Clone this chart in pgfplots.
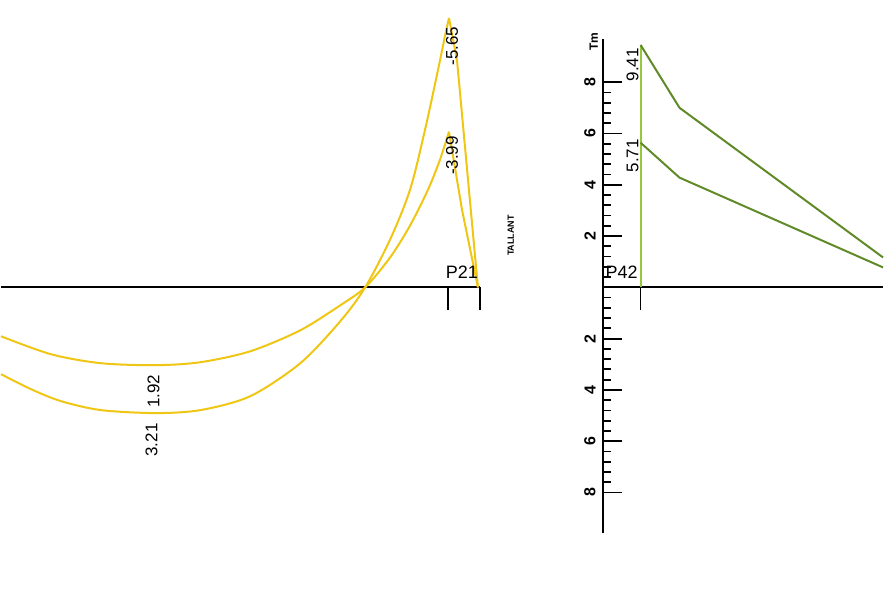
\documentclass[border=0pt]{standalone}
\usepackage{pgfplots}
\pgfplotsset{compat=1.18}
\usepackage{fontspec}
\setmainfont{Liberation Sans}
\definecolor{gold}{RGB}{240,198,20}
\definecolor{olive}{RGB}{96,138,40}
\definecolor{lgreen}{RGB}{150,200,60}
\begin{document}
\begin{tikzpicture}
% whole picture in pixel units of the reference (y downwards)
\begin{axis}[name=main, x=0.5pt, y=0.5pt, xmin=0, xmax=884, ymin=0, ymax=616,
    y dir=reverse, hide axis, clip=false, scale only axis]
  \path (0,0) rectangle (884,616);
  % left beam: bending moments
  \addplot[black, line width=1pt] coordinates {(0,288) (480,288)};
  \addplot[black, line width=0.8pt] coordinates {(448,288) (448,311)};
  \addplot[black, line width=0.8pt] coordinates {(480,288) (480,311)};
  \addplot[gold, line width=1pt, smooth] coordinates {
    (0,375) (30,390) (60,402) (100,411) (155,414) (200,411) (250,397)
    (300,364) (340,322) (365,288) (390,240) (410,190) (425,130)
    (438,70) (445,36) (449,18)};
  \addplot[gold, line width=1pt] coordinates {(449,18) (457,60) (478,288)};
  \addplot[gold, line width=1pt, smooth] coordinates {
    (0,337) (50,355) (100,364) (155,366) (200,363) (250,352) (300,331)
    (340,306) (365,288) (390,258) (410,226) (428,190) (440,160) (449,132)};
  \addplot[gold, line width=1pt] coordinates {(449,132) (462,210) (478,288)};
  \node[rotate=90, font=\fontsize{8.5}{10}\selectfont] at (452,46) {-5.65};
  \node[rotate=90, font=\fontsize{8.5}{10}\selectfont] at (452,156) {-3.99};
  \node[rotate=90, font=\fontsize{8.5}{10}\selectfont] at (151,441) {3.21};
  \node[rotate=90, font=\fontsize{8.5}{10}\selectfont] at (153,392) {1.92};
  \node[font=\fontsize{9}{10}\selectfont] at (462,273) {P21};
  \node[rotate=90, font=\fontsize{4.5}{5}\selectfont\bfseries] at (511,236) {TALLANT};
  % right beam: shear
  \addplot[black, line width=1pt] coordinates {(603,288) (884,288)};
  \addplot[black, line width=0.8pt] coordinates {(641,288) (641,311)};
  \addplot[lgreen, line width=1pt] coordinates {(641,288) (641,45)};
  \addplot[olive, line width=1pt] coordinates {(641,45) (680,108) (884,258)};
  \addplot[olive, line width=1pt] coordinates {(641,143) (680,178) (884,268)};
  \node[rotate=90, font=\fontsize{8.5}{10}\selectfont] at (633,65) {9.41};
  \node[rotate=90, font=\fontsize{8.5}{10}\selectfont] at (633,156) {5.71};
  \node[font=\fontsize{9}{10}\selectfont] at (622,273) {P42};
  \node[rotate=90, font=\fontsize{6}{7}\selectfont\bfseries] at (594,42) {Tm};
\end{axis}
% the scale of the shear diagram
\begin{axis}[at={(301.5pt,40.65pt)}, anchor=south west, scale only axis,
    width=1pt, height=248pt, xmin=0, xmax=1, ymin=-9.6, ymax=9.7,
    hide x axis, axis y line*=left, axis line style={line width=1pt},
    ytick={-8,-6,...,8}, yticklabels={8,6,4,2,,2,4,6,8},
    minor y tick num=4, tick align=inside,
    major tick length=9.5pt, minor tick length=4pt,
    every tick/.style={black, line width=0.9pt},
    yticklabel style={rotate=90, anchor=south, font=\fontsize{8}{9}\selectfont\bfseries},
    /pgf/number format/assume math mode=true]
  \addplot[draw=none] coordinates {(0,0) (1,0)};
\end{axis}
\end{tikzpicture}
\end{document}
